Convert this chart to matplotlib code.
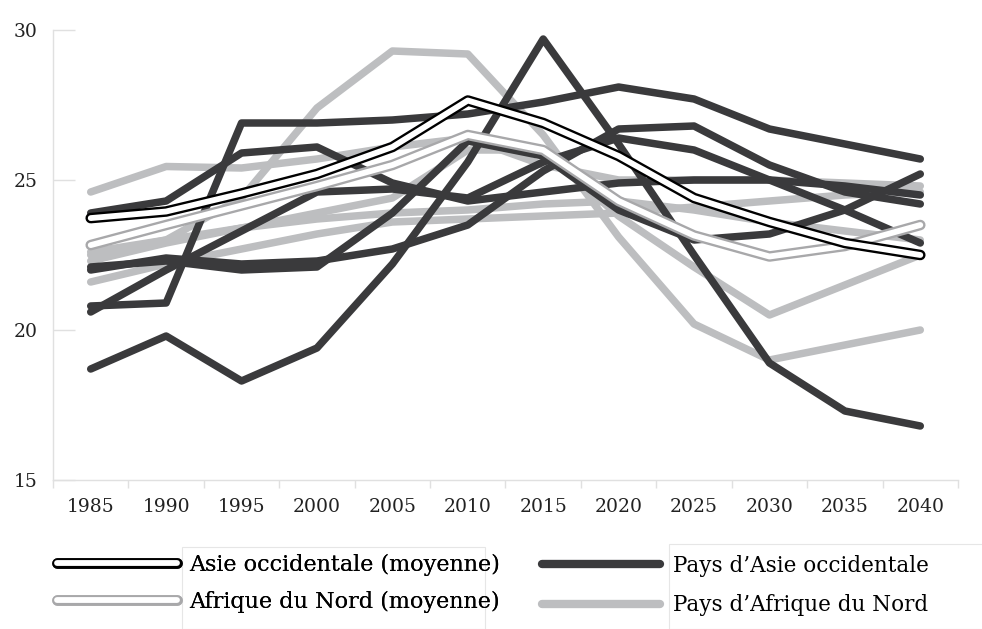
import matplotlib
matplotlib.use("Agg")
import matplotlib.pyplot as plt
from matplotlib.lines import Line2D
from matplotlib.patches import Rectangle
from matplotlib.legend_handler import HandlerTuple

years = ["1985", "1990", "1995", "2000", "2005", "2010", "2015",
         "2020", "2025", "2030", "2035", "2040"]

west_asia_avg = [23.73, 23.95, 24.55, 25.2, 26.1, 27.65, 26.9, 25.8, 24.4, 23.6, 22.9, 22.5]
north_africa_avg = [22.83, 23.5, 24.15, 24.8, 25.5, 26.5, 26.0, 24.3, 23.15, 22.45, 22.8, 23.5]

wa_1 = [18.7, 19.8, 18.3, 19.4, 22.2, 25.6, 29.7, 26.2, 22.5, 18.9, 17.3, 16.8]
wa_2 = [20.8, 20.9, 26.9, 26.9, 27.0, 27.2, 27.6, 28.1, 27.7, 26.7, 26.2, 25.7]
wa_3 = [23.9, 24.3, 25.9, 26.1, 24.9, 24.3, 24.6, 24.9, 25.0, 25.0, 24.8, 24.5]
wa_4 = [22.0, 22.4, 22.2, 22.3, 22.7, 23.5, 25.3, 26.7, 26.8, 25.5, 24.6, 24.2]
wa_5 = [20.6, 22.0, 23.3, 24.6, 24.7, 24.4, 25.6, 26.4, 26.0, 25.0, 24.0, 22.9]
wa_6 = [22.1, 22.3, 22.0, 22.1, 23.9, 26.3, 25.8, 24.0, 23.0, 23.2, 24.0, 25.2]
west_asia_countries = [wa_1, wa_2, wa_3, wa_4, wa_5, wa_6]

na_1 = [22.5, 23.0, 24.4, 27.4, 29.3, 29.2, 26.5, 23.1, 20.2, 19.0, 19.5, 20.0]
na_2 = [24.6, 25.45, 25.4, 25.7, 26.1, 26.4, 25.5, 25.0, 25.0, 25.0, 24.9, 24.8]
na_3 = [22.3, 22.9, 23.4, 23.9, 24.4, 26.0, 26.0, 23.8, 22.1, 20.5, 21.5, 22.5]
na_4 = [21.6, 22.2, 22.7, 23.2, 23.6, 23.7, 23.8, 23.9, 24.1, 24.3, 24.5, 24.6]
na_5 = [22.6, 23.0, 23.4, 23.7, 23.9, 24.0, 24.2, 24.3, 24.0, 23.6, 23.3, 23.0]
north_africa_countries = [na_1, na_2, na_3, na_4, na_5]

y_ticks = [15, 20, 25, 30]

legend_labels_left = ["Asie occidentale (moyenne)", "Afrique du Nord (moyenne)"]
legend_labels_right = ["Pays d\u2019Asie occidentale", "Pays d\u2019Afrique du Nord"]

DARK = "#3a3a3c"
LIGHT = "#bdbec0"
AVG_NA_EDGE = "#a8a8aa"
AXC = "#e0e0e0"
FONT = "DejaVu Serif"

W, H = 982, 629
fig = plt.figure(figsize=(W / 100, H / 100), dpi=100)
ax = fig.add_axes([53 / W, 1 - 480 / H, 905 / W, 450 / H])

x = list(range(len(years)))
lw_c = 5.4
lw_out = 7.6
lw_in = 4.2
common = dict(solid_capstyle="round", solid_joinstyle="round")

for s in north_africa_countries:
    ax.plot(x, s, color=LIGHT, lw=lw_c, zorder=2, **common)
for s in west_asia_countries:
    ax.plot(x, s, color=DARK, lw=lw_c, zorder=3, **common)

ax.plot(x, north_africa_avg, color=AVG_NA_EDGE, lw=lw_out, zorder=4, **common)
ax.plot(x, north_africa_avg, color="white", lw=lw_in, zorder=5, **common)
ax.plot(x, west_asia_avg, color="black", lw=lw_out, zorder=6, **common)
ax.plot(x, west_asia_avg, color="white", lw=lw_in, zorder=7, **common)

ax.set_xlim(-0.5, len(years) - 0.5)
ax.set_ylim(15, 30)

for side in ["top", "right"]:
    ax.spines[side].set_visible(False)
for side in ["left", "bottom"]:
    ax.spines[side].set_color(AXC)
    ax.spines[side].set_linewidth(1.0)

ax.set_yticks(y_ticks)
ax.set_yticklabels([str(v) for v in y_ticks], fontfamily=FONT, fontsize=13.5, color="#222222")
ax.tick_params(axis="y", direction="in", length=16, width=1.0, color=AXC, pad=11)

ax.set_xticks(x)
ax.set_xticklabels(years, fontfamily=FONT, fontsize=13.5, color="#222222")
ax.set_xticks([i - 0.5 for i in range(len(years) + 1)], minor=True)
ax.tick_params(axis="x", which="major", length=0, pad=13)
ax.tick_params(axis="x", which="minor", direction="out", length=6, width=1.0, color=AXC)

# legends
h_wa = (Line2D([], [], color="black", lw=lw_out, solid_capstyle="round"),
        Line2D([], [], color="white", lw=lw_in, solid_capstyle="round"))
h_na = (Line2D([], [], color=AVG_NA_EDGE, lw=lw_out, solid_capstyle="round"),
        Line2D([], [], color="white", lw=lw_in, solid_capstyle="round"))
h_dark = Line2D([], [], color=DARK, lw=lw_c + 0.6, solid_capstyle="round")
h_light = Line2D([], [], color=LIGHT, lw=lw_c + 0.6, solid_capstyle="round")

leg1 = fig.legend([h_wa, h_na], legend_labels_left, loc="upper left",
                  bbox_to_anchor=(57 / W, 1 - 554 / H), frameon=False,
                  prop={"family": FONT, "size": 16}, handlelength=5.4,
                  handletextpad=0.55, labelspacing=0.65, borderpad=0, borderaxespad=0,
                  handler_map={tuple: HandlerTuple(ndivide=1, pad=0)})
leg2 = fig.legend([h_dark, h_light], legend_labels_right, loc="upper left",
                  bbox_to_anchor=(542 / W, 1 - 555 / H), frameon=False,
                  prop={"family": FONT, "size": 15.5}, handlelength=5.5,
                  handletextpad=0.6, labelspacing=0.8, borderpad=0, borderaxespad=0)
fig.add_artist(leg1)

# faint boxes around legend text
fig.add_artist(Rectangle((182 / W, 0), (485 - 182) / W, 1 - 547 / H,
                         transform=fig.transFigure, fill=False, ec="#e6e6e6", lw=0.8))
fig.add_artist(Rectangle((669 / W, 0), (990 - 669) / W, 1 - 544 / H,
                         transform=fig.transFigure, fill=False, ec="#e6e6e6", lw=0.8))

fig.savefig("out.png", dpi=100, facecolor="white")
